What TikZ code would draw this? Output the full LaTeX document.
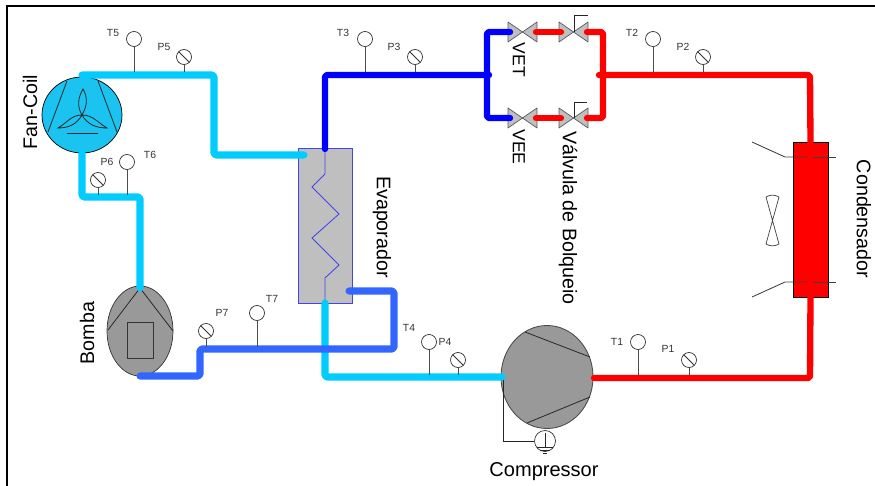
\documentclass[tikz,border=0pt]{standalone}
\usepackage{fontspec}
\setmainfont{Liberation Sans}
\usetikzlibrary{shapes.geometric}
\definecolor{pipecyan}{HTML}{00CCFF}
\definecolor{pipeblue}{HTML}{0000FF}
\definecolor{piperoyal}{HTML}{3366FF}
\definecolor{pipered}{HTML}{FF0000}
\definecolor{coilfill}{HTML}{1AC3F0}
\definecolor{bodygray}{HTML}{999999}
\definecolor{valvegray}{HTML}{BFBFBF}
\definecolor{evapline}{HTML}{4444EE}
\tikzset{
    pipe/.style={line cap=round, line join=round, rounded corners=1pt, line width=3.6pt},
    sensor/.style={circle, draw=black!80, fill=white, line width=0.4pt, inner sep=0pt, minimum size=0.3cm},
    gauge/.style={sensor, path picture={\draw[black!80, line width=0.5pt] (path picture bounding box.north west) -- (path picture bounding box.south east);}},
    stem/.style={draw=black!70, line width=0.5pt},
    tag/.style={font=\fontsize{5.9}{6}\selectfont, text=black!80, inner sep=0pt},
    caption/.style={font=\fontsize{11.2}{12}\selectfont, inner sep=0pt},
    valve/.style={draw=black!65, fill=valvegray, line width=0.4pt, line join=round},
    thin line/.style={draw=black!85, line width=0.45pt},
}
\begin{document}
\begin{tikzpicture}[x=0.02cm, y=-0.02cm]
    \useasboundingbox (0,0) rectangle (875,486);
    % frame
    \draw[line width=0.6pt] (7,486) -- (7,6) -- (875,6);

    % fan coil
    \node[ellipse, draw=black, fill=coilfill, line width=0.4pt, minimum width=1.6cm, minimum height=1.52cm, inner sep=0pt] (fancoil) at (82,115) {};
    \draw[thin line] (67,81) -- (48,132);
    \draw[thin line] (98,81) -- (117,132);
    \draw[thin line] (67,133) -- (98,133);
    \draw[thin line] (fancoil.center) to[out=60, in=-60] (83,89) to[out=240, in=120] (fancoil.center);
    \draw[thin line] (fancoil.center) to[out=180, in=30] (58,128) to[out=0, in=240] (fancoil.center);
    \draw[thin line] (fancoil.center) to[out=0, in=150] (107,128) to[out=180, in=-60] (fancoil.center);
    \node[caption, rotate=90] (fancoilText) at (30,112) {Fan-Coil};

    % pump
    \node[ellipse, draw=black!80, fill=bodygray, line width=0.4pt, minimum width=1.32cm, minimum height=1.8cm, inner sep=0pt] (bomba) at (140,331) {};
    \draw[thin line] (140,288) -- (108,330);
    \draw[thin line] (140,288) -- (173,331);
    \node[draw=black!80, line width=0.5pt, minimum width=0.52cm, minimum height=0.72cm, inner sep=0pt] (bombaBox) at (140,340) {};
    \node[caption, rotate=90] (bombaText) at (87,333) {Bomba};

    % evaporator
    \node[draw=evapline, fill=valvegray, line width=0.5pt, minimum width=1.08cm, minimum height=3.1cm, inner sep=0pt] (evap) at (325,225.5) {};
    \draw[evapline, line width=0.5pt] (evap.north) -- (325,174) -- (312,187) -- (339,214) -- (312,238) -- (339,265) -- (325,278) -- (evap.south);
    \node[caption, rotate=-90] (evapText) at (382,227) {Evaporador};

    % compressor
    \node[ellipse, draw=black!70, fill=bodygray, line width=0.5pt, minimum width=1.84cm, minimum height=2.06cm, inner sep=0pt] (comp) at (547,377) {};
    \draw[thin line] (525,332) -- (590,357);
    \draw[thin line] (527,423) -- (590,397);
    \node[circle, draw=black!80, line width=0.4pt, minimum size=0.42cm, inner sep=0pt] (earth) at (545,441) {};
    \coordinate (compWire) at (503,377);
    \draw[thin line] (compWire) |- (earth.west);
    \draw[thin line] (545,433) -- (545,447);
    \draw[thin line] (537,447) -- (553,447);
    \draw[thin line] (540,450) -- (550,450);
    \draw[thin line] (543,453) -- (547,453);
    \node[caption, font=\fontsize{11.4}{12}\selectfont] (compText) at (544,472) {Compressor};

    % condenser
    \node[draw=black, fill=pipered, line width=0.5pt, minimum width=0.7cm, minimum height=3.1cm, inner sep=0pt] (cond) at (810.5,219.5) {};
    \draw[black!75, line width=0.5pt] (752,142) -- (785,157) -- (807,157);
    \draw[black!75, line width=0.5pt] (813,157) -- (836,157);
    \draw[black!75, line width=0.5pt] (752,297) -- (785,282) -- (807,282);
    \draw[black!75, line width=0.5pt] (813,282) -- (836,282);
    \draw[black!75, line width=0.4pt] (766,197) -- (779,244) to[out=-150, in=-30] (766,244) -- (779,197) to[out=150, in=30] (766,197);
    \node[caption, rotate=-90] (condText) at (864,219) {Condensador};

    % valves
    \draw[valve] (508,22) -- (537,42) -- (537,22) -- (508,42) -- cycle;
    \draw[valve] (559,22) -- (588,42) -- (588,22) -- (559,42) -- cycle;
    \draw[valve] (508,108) -- (537,128) -- (537,108) -- (508,128) -- cycle;
    \draw[valve] (559,108) -- (588,128) -- (588,108) -- (559,128) -- cycle;
    \draw[thin line] (574,32) -- (574,15) -- (588,15);
    \draw[thin line] (574,118) -- (574,102) -- (587,102);
    \node[caption, rotate=-90, font=\fontsize{10}{12}\selectfont] (vetText) at (519,60) {VET};
    \node[caption, rotate=-90, font=\fontsize{10}{12}\selectfont] (veeText) at (519,147) {VEE};
    \node[caption, rotate=-90] (bolqueioText) at (568,218) {Válvula de Bolqueio};

    % pipe end points
    \coordinate (fcOut) at (82,75);
    \coordinate (fcBend) at (214,115);
    \coordinate (evapIn) at (304,155);
    \coordinate (fcIn) at (82,153);
    \coordinate (pumpBend) at (110,197);
    \coordinate (pumpIn) at (140,288);
    \coordinate (evapOut) at (325,303);
    \coordinate (compIn) at (502,377);
    \coordinate (coilIn) at (349,291);
    \coordinate (coilBend) at (394,349);
    \coordinate (pumpBendB) at (200,362);
    \coordinate (pumpOut) at (140,376);
    \coordinate (evapTop) at (325,149);
    \coordinate (blueJoin) at (489,75);
    \coordinate (blueUp) at (510,32);
    \coordinate (blueDown) at (510,118);
    \coordinate (blueRail) at (487,75);
    \coordinate (redJoin) at (599,75);
    \coordinate (redRail) at (603,75);
    \coordinate (redUpL) at (536,32);
    \coordinate (redUpR) at (561,32);
    \coordinate (redLowL) at (536,118);
    \coordinate (redLowR) at (561,118);
    \coordinate (redUp) at (587,32);
    \coordinate (redLow) at (587,118);
    \coordinate (redCorner) at (810,75);
    \coordinate (compOut) at (594,378);
    \coordinate (redBottom) at (810,378);

    % pipes
    \draw[pipe, pipecyan, line width=4pt] (evapOut) |- (compIn);
    \draw[pipe, piperoyal, line width=4pt] (coilIn) -| (coilBend) -| (pumpBendB) |- (pumpOut);
    \draw[pipe, pipecyan, line width=4pt] (fcOut) -| (fcBend) |- (evapIn);
    \draw[pipe, pipecyan, line width=4pt] (fcIn) |- (pumpBend) -| (pumpIn);
    \draw[pipe, pipeblue] (evapTop) |- (blueJoin);
    \draw[pipe, pipeblue] (blueUp) -| (blueRail) |- (blueDown);
    \draw[pipe, pipered] (redUpL) -- (redUpR);
    \draw[pipe, pipered] (redLowL) -- (redLowR);
    \draw[pipe, pipered] (redUp) -| (redRail) |- (redLow);
    \draw[pipe, pipered] (redJoin) -- (redCorner) -- (cond.north);
    \draw[pipe, pipered] (cond.south) -- (redBottom) -- (compOut);

    % sensors
    \node[sensor] (T1) at (638,342) {};
    \node[sensor] (T2) at (653,39) {};
    \node[sensor] (T3) at (365,39) {};
    \node[sensor] (T4) at (429,342) {};
    \node[sensor] (T5) at (134,39) {};
    \node[sensor] (T6) at (127,162) {};
    \node[sensor] (T7) at (257,313) {};
    \node[gauge] (P1) at (689,360) {};
    \node[gauge] (P2) at (703,57) {};
    \node[gauge] (P3) at (415,57) {};
    \node[gauge] (P4) at (458,360) {};
    \node[gauge] (P5) at (184,57) {};
    \node[gauge] (P6) at (98,180) {};
    \node[gauge] (P7) at (206,331) {};
    \coordinate (tapT1) at (638,375);
    \coordinate (tapT2) at (653,73);
    \coordinate (tapT3) at (365,72);
    \coordinate (tapT4) at (429,375);
    \coordinate (tapT5) at (134,72);
    \coordinate (tapT6) at (127,195);
    \coordinate (tapT7) at (257,347);
    \coordinate (tapP1) at (689,375);
    \coordinate (tapP2) at (703,73);
    \coordinate (tapP3) at (415,72);
    \coordinate (tapP4) at (458,375);
    \coordinate (tapP5) at (184,72);
    \coordinate (tapP6) at (98,195);
    \coordinate (tapP7) at (206,347);
    \draw[stem] (T1) -- (tapT1);
    \draw[stem] (T2) -- (tapT2);
    \draw[stem] (T3) -- (tapT3);
    \draw[stem] (T4) -- (tapT4);
    \draw[stem] (T5) -- (tapT5);
    \draw[stem] (T6) -- (tapT6);
    \draw[stem] (T7) -- (tapT7);
    \draw[stem] (P1) -- (tapP1);
    \draw[stem] (P2) -- (tapP2);
    \draw[stem] (P3) -- (tapP3);
    \draw[stem] (P4) -- (tapP4);
    \draw[stem] (P5) -- (tapP5);
    \draw[stem] (P6) -- (tapP6);
    \draw[stem] (P7) -- (tapP7);

    % sensor labels
    \node[tag] (T1Text) at (617,342) {T1};
    \node[tag] (T2Text) at (632,33) {T2};
    \node[tag] (T3Text) at (343,33) {T3};
    \node[tag] (T4Text) at (409,328) {T4};
    \node[tag] (T5Text) at (113,33) {T5};
    \node[tag] (T6Text) at (150,155) {T6};
    \node[tag] (T7Text) at (272,299) {T7};
    \node[tag] (P1Text) at (668,349) {P1};
    \node[tag] (P2Text) at (683,47) {P2};
    \node[tag] (P3Text) at (394,47) {P3};
    \node[tag] (P4Text) at (445,342) {P4};
    \node[tag] (P5Text) at (164,47) {P5};
    \node[tag] (P6Text) at (107,162) {P6};
    \node[tag] (P7Text) at (222,313) {P7};
\end{tikzpicture}
\end{document}
